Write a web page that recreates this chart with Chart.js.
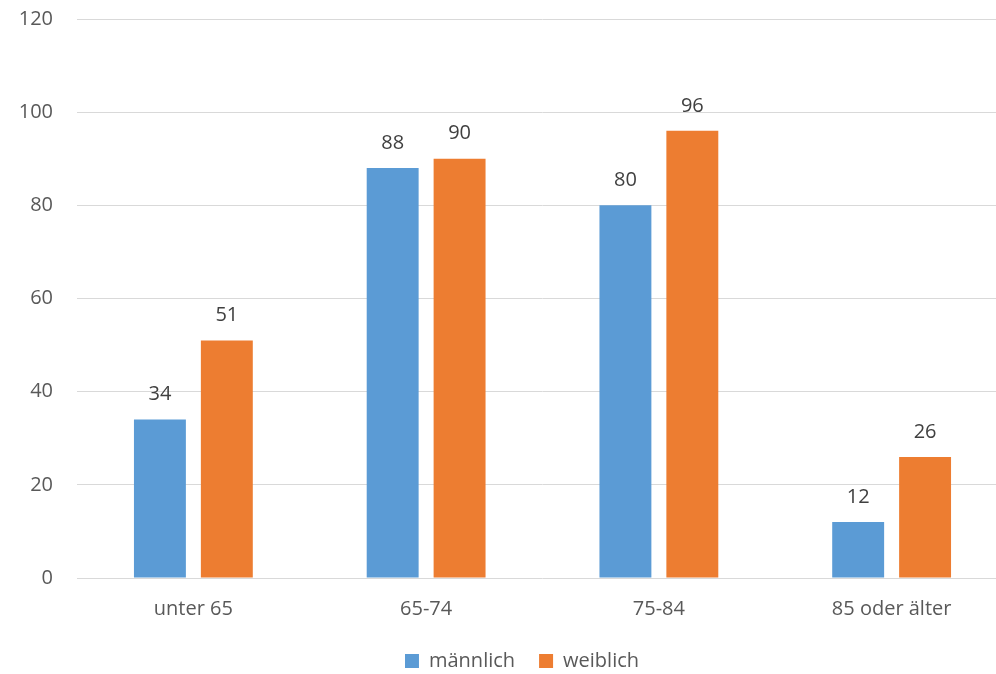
<!DOCTYPE html>
<html>
<head>
<meta charset="utf-8">
<script src="https://cdn.jsdelivr.net/npm/chart.js@4"></script>
<style>
  html, body { margin: 0; padding: 0; overflow: hidden; background: #fff; }
  #wrap { width: 1044px; height: 681px; }
</style>
</head>
<body>
<div id="wrap"><canvas id="bar-chart" width="1044" height="681"></canvas></div>
<script>
const categories = ["unter 65", "65-74", "75-84", "85 oder älter"];
const maleValues = [34, 88, 80, 12];
const femaleValues = [51, 90, 96, 26];
const yTicks = [0, 20, 40, 60, 80, 100, 120];

const textColor = "#595959";
const fontFamily = "'Open Sans', 'DejaVu Sans', sans-serif";

// draws the value above each bar
const valueLabels = {
  id: "valueLabels",
  afterDatasetsDraw(chart) {
    const ctx = chart.ctx;
    ctx.save();
    ctx.font = "20px " + fontFamily;
    ctx.fillStyle = "#404040";
    ctx.textAlign = "center";
    ctx.textBaseline = "middle";
    chart.data.datasets.forEach((ds, i) => {
      chart.getDatasetMeta(i).data.forEach((bar, j) => {
        ctx.fillText(ds.data[j], bar.x, bar.y - 25);
      });
    });
    ctx.restore();
  }
};

new Chart(document.getElementById("bar-chart"), {
  type: "bar",
  data: {
    labels: categories,
    datasets: [
      {
        label: "männlich",
        backgroundColor: "#5B9BD5",
        data: maleValues,
        categoryPercentage: 0.575,
        barPercentage: 0.776,
      },
      {
        label: "weiblich",
        backgroundColor: "#ED7D31",
        data: femaleValues,
        categoryPercentage: 0.575,
        barPercentage: 0.776,
      },
    ],
  },
  options: {
    responsive: false,
    animation: false,
    layout: { padding: { top: 19, left: 0, right: 0, bottom: 0 } },
    scales: {
      x: {
        grid: { display: false },
        border: { display: false },
        ticks: { color: textColor, font: { family: fontFamily, size: 20 }, padding: 11 },
        afterFit(s) { s.height = 49; },
      },
      y: {
        min: 0,
        max: 120,
        afterBuildTicks(s) { s.ticks = yTicks.map(v => ({ value: v })); },
        grid: { color: "#D9D9D9", lineWidth: 1, drawTicks: false },
        border: { display: false },
        ticks: { color: textColor, font: { family: fontFamily, size: 20 }, padding: 24 },
        afterFit(s) { s.width = 77; s.paddingTop = 0; s.paddingBottom = 0; },
      },
      pad: {
        type: "linear",
        position: "right",
        grid: { display: false },
        border: { display: false },
        ticks: { display: false },
        afterFit(s) { s.width = 36; s.paddingTop = 0; s.paddingBottom = 0; },
      },
    },
    plugins: {
      legend: {
        position: "bottom",
        labels: {
          color: textColor,
          font: { family: fontFamily, size: 20 },
          boxWidth: 14,
          boxHeight: 14,
          padding: 24,
        },
      },
      tooltip: { enabled: false },
    },
  },
  plugins: [valueLabels],
});
</script>
</body>
</html>
